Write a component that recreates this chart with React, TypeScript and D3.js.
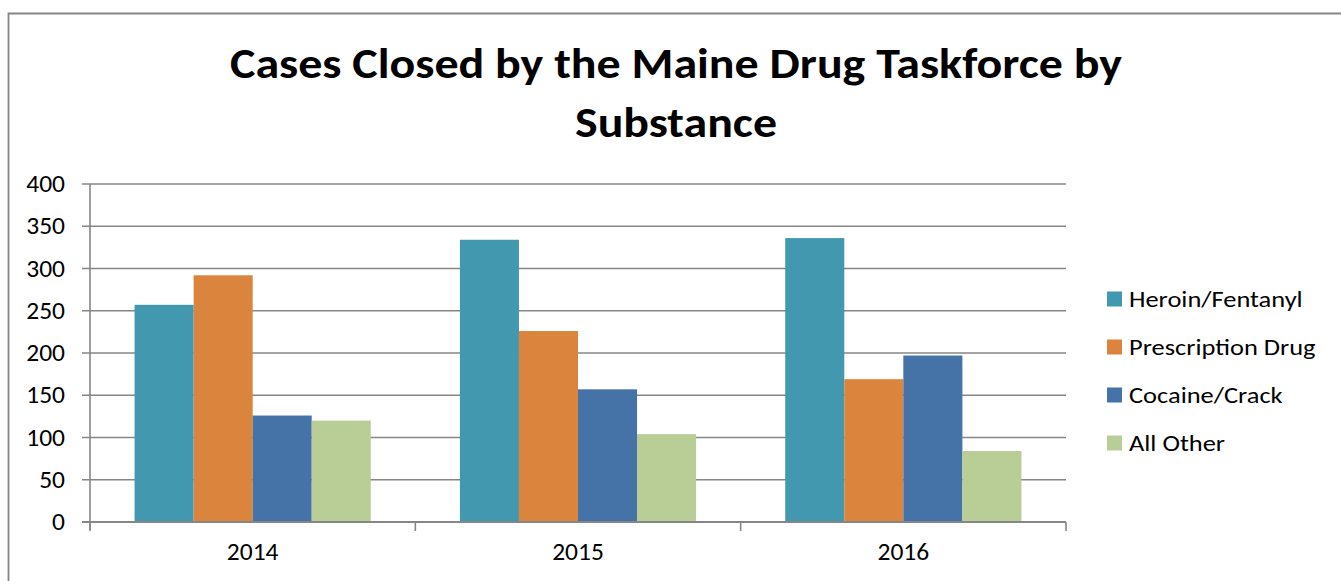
import * as d3 from 'd3';
import React from 'react';

const years = ['2014', '2015', '2016'];
const substances = ['Heroin/Fentanyl', 'Prescription Drug', 'Cocaine/Crack', 'All Other'];
const heroin = [257, 334, 336];
const prescription = [292, 226, 169];
const cocaine = [126, 157, 197];
const allOther = [120, 104, 84];
const yTicks = [0, 50, 100, 150, 200, 250, 300, 350, 400];
const colors = ['#4198AF', '#DB843D', '#4572A7', '#B9CD96'];

const W = 1341;
const H = 581;
const margin = { top: 184, left: 90, right: 275, bottom: 59 };
const gridColor = '#868686';
const font = 'Calibri, Carlito, "Open Sans", Arial, sans-serif';

export default function App() {
  const series = [heroin, prescription, cocaine, allOther];
  const x0 = d3.scaleBand().domain(years).range([margin.left, W - margin.right]).padding(0);
  const innerPad = 0.274;
  const groupW = x0.bandwidth() * (1 - innerPad);
  const x1 = d3.scaleBand().domain(substances).range([0, groupW]).padding(0);
  const y = d3.scaleLinear().domain([0, 400]).range([H - margin.bottom, margin.top]);
  const xLeft = margin.left;
  const xRight = W - margin.right;
  const yBase = y(0);

  return (
    <svg width={W} height={H} style={{ position: 'absolute', left: 0, top: 0, display: 'block', background: '#fff' }}>
      {/* chart frame */}
      <path d={`M8.5,${H + 2} V13.5 H${W + 2}`} fill="none" stroke={gridColor} strokeWidth={1.8} />

      <text x={676} y={78} textAnchor="middle" fontFamily={font} fontWeight="bold" fontSize={43} textLength={892} lengthAdjust="spacingAndGlyphs">
        Cases Closed by the Maine Drug Taskforce by
      </text>
      <text x={676} y={137} textAnchor="middle" fontFamily={font} fontWeight="bold" fontSize={43} textLength={202} lengthAdjust="spacingAndGlyphs">
        Substance
      </text>

      {/* gridlines + y ticks */}
      {yTicks.map(t => (
        <g key={t}>
          <line x1={xLeft - 8} x2={xRight} y1={y(t)} y2={y(t)} stroke={gridColor} strokeWidth={1.6} />
          <text x={65} y={y(t) + 8} textAnchor="end" fontFamily={font} fontSize={25.5} fill="#000">
            {t}
          </text>
        </g>
      ))}

      {/* bars */}
      {years.map((yr, i) => {
        const gx = (x0(yr) as number) + (x0.bandwidth() - groupW) / 2;
        return (
          <g key={yr}>
            {series.map((s, j) => (
              <rect
                key={j}
                x={gx + (x1(substances[j]) as number)}
                y={y(s[i])}
                width={x1.bandwidth()}
                height={yBase - y(s[i])}
                fill={colors[j]}
              />
            ))}
          </g>
        );
      })}

      {/* axes */}
      <line x1={xLeft} x2={xLeft} y1={y(400)} y2={yBase + 8} stroke={gridColor} strokeWidth={1.6} />
      <line x1={xLeft - 8} x2={xRight} y1={yBase} y2={yBase} stroke={gridColor} strokeWidth={1.8} />
      {[...years.map(yr => x0(yr) as number), xRight].map((xv, i) => (
        <line key={i} x1={xv} x2={xv} y1={yBase} y2={yBase + 9} stroke={gridColor} strokeWidth={1.6} />
      ))}
      {years.map(yr => (
        <text key={yr} x={(x0(yr) as number) + x0.bandwidth() / 2} y={559.5} textAnchor="middle" fontFamily={font} fontSize={25.5} fill="#000">
          {yr}
        </text>
      ))}

      {/* legend */}
      {substances.map((s, j) => (
        <g key={s} transform={`translate(1107,${299 + j * 48})`}>
          <rect x={0} y={-7.5} width={15} height={15} fill={colors[j]} />
          <text transform="translate(22,7.8) scale(1.15,1)" fontFamily={font} fontSize={23} fill="#000">
            {s}
          </text>
        </g>
      ))}
    </svg>
  );
}
